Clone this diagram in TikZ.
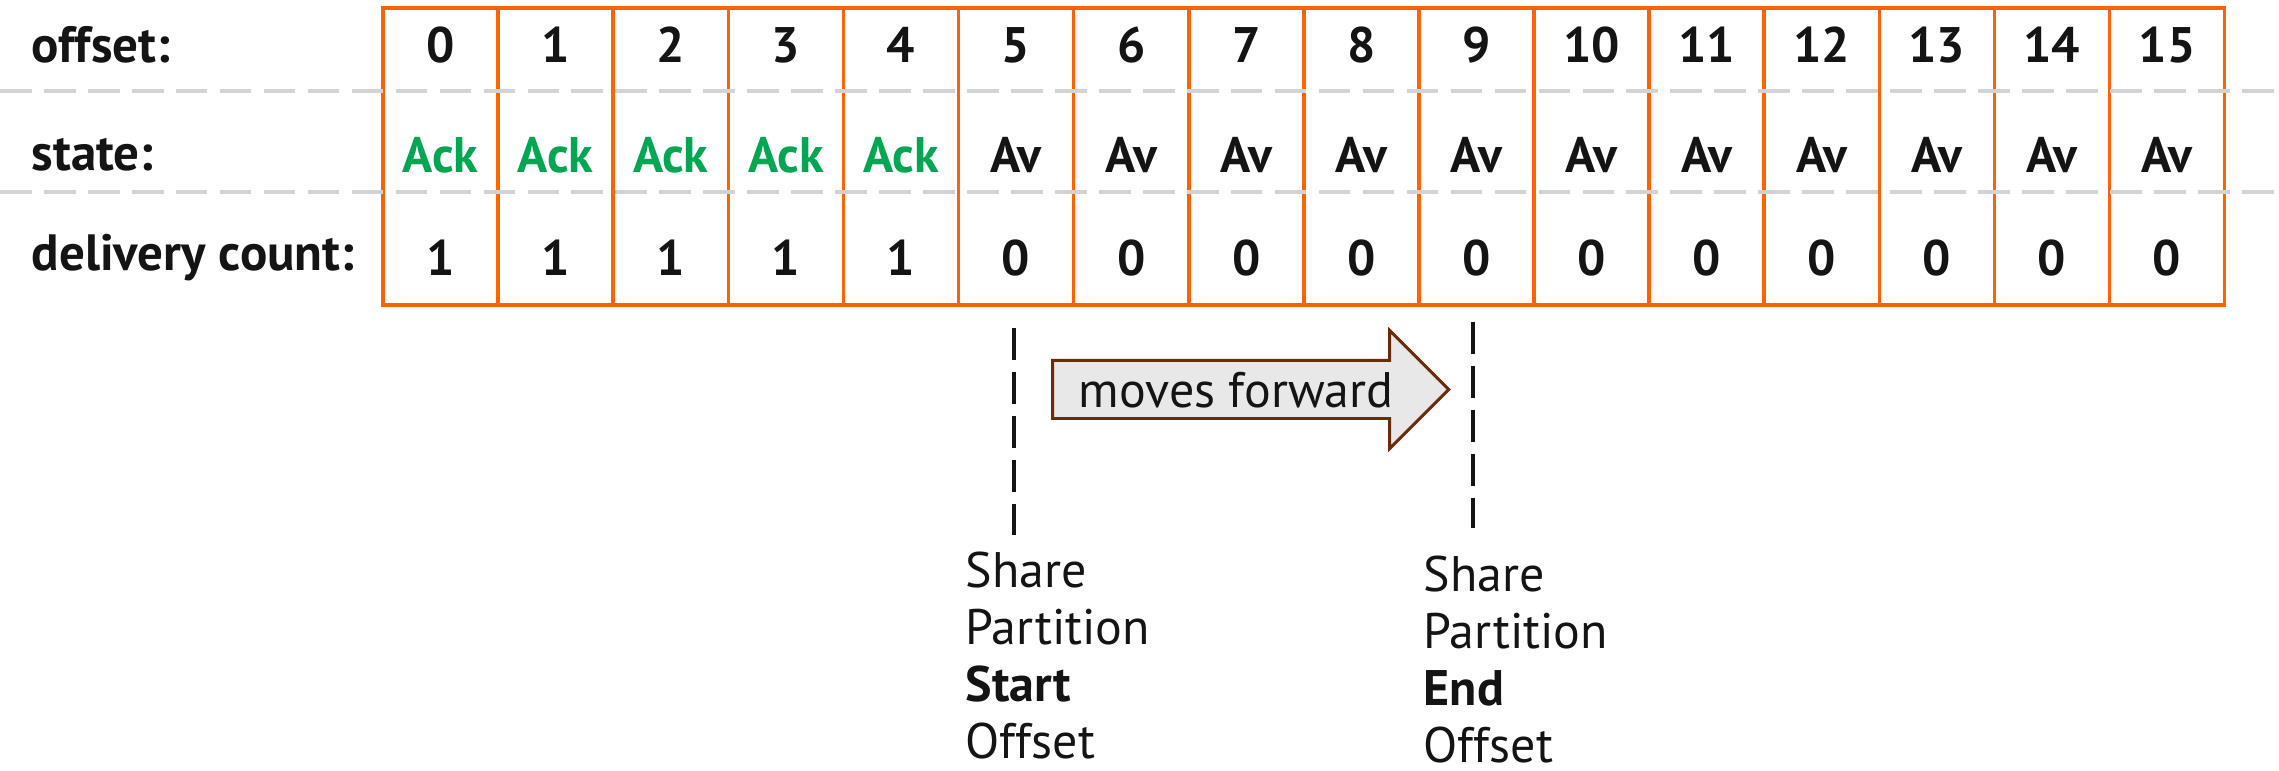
\documentclass[tikz,border=0pt]{standalone}
\usepackage{fontspec}
\setmainfont{PT Sans}
\usetikzlibrary{shapes.arrows}
\definecolor{ingorange}{HTML}{FF6200}
\definecolor{ackgreen}{HTML}{00A651}
\definecolor{guidegray}{HTML}{D3D3D3}
\definecolor{arrowbrown}{HTML}{6E2A08}
\definecolor{arrowfill}{HTML}{E8E8E8}
\definecolor{inkblack}{HTML}{141414}

\begin{document}
\begin{tikzpicture}[x=0.01cm,y=-0.01cm,
    every node/.style={text=inkblack},
    cellbox/.style={draw=ingorange,line width=1pt,minimum width=1.151cm,minimum height=2.97cm,inner sep=0pt},
    rowlabel/.style={font=\fontsize{14.5}{17}\selectfont\bfseries,anchor=base west,inner sep=0pt},
    cellval/.style={font=\fontsize{14.2}{17}\selectfont\bfseries,anchor=base,inner sep=0pt},
    guide/.style={draw=guidegray,line width=1.15pt,dash pattern=on 9pt off 3.5pt},
    marker/.style={draw=inkblack,line width=1pt,dash pattern=on 9pt off 3.5pt},
    caption/.style={font=\fontsize{14.2}{16.2}\selectfont,align=left,anchor=north west,inner sep=0pt}]
  \useasboundingbox (0,0) rectangle (2279,771);
  % one column per offset
  \foreach \i in {0,...,15} {
    \pgfmathsetmacro\cx{383+115.1*(\i+0.5)}
    \ifnum\i<5 \def\st{\textcolor{ackgreen}{Ack}}\def\dc{1}\else \def\st{Av}\def\dc{0}\fi
    \node[cellbox] (c\i) at (\cx,156.5) {};
    \node[cellval] (o\i) at (\cx,63) {\i};
    \node[cellval] (s\i) at (\cx,173) {\st};
    \node[cellval] (d\i) at (\cx,276) {\dc};
  }
  \node[rowlabel] (loff) at (31,63) {offset:};
  \node[rowlabel] (lstate) at (31,171) {state:};
  \node[rowlabel] (ldeliv) at (31,271) {delivery count:};
  % row separators
  \coordinate (g1l) at (0,91);  \coordinate (g1r) at (2279,91);
  \coordinate (g2l) at (0,192); \coordinate (g2r) at (2279,192);
  \draw[guide] (g1l) -- (g1r);
  \draw[guide] (g2l) -- (g2r);
  % start and end markers
  \coordinate (st0) at (1014,328); \coordinate (st1) at (1014,535);
  \coordinate (en0) at (1473,322); \coordinate (en1) at (1473,528);
  \draw[marker] (st0) -- (st1);
  \draw[marker] (en0) -- (en1);
  \node[single arrow,draw=arrowbrown,fill=arrowfill,line width=0.85pt,
    minimum height=3.96cm,single arrow head extend=0.3cm,
    text height=0.36cm,text depth=0pt,inner ysep=0.095cm,inner xsep=0pt,
    font=\fontsize{14.2}{17}\selectfont,anchor=tail] (fwd) at (1051,389.5) {moves forward};
  \node[caption] (startlbl) at (965,551) {Share\\Partition\\\textbf{Start}\\Offset};
  \node[caption] (endlbl) at (1423,555) {Share\\Partition\\\textbf{End}\\Offset};
\end{tikzpicture}
\end{document}
